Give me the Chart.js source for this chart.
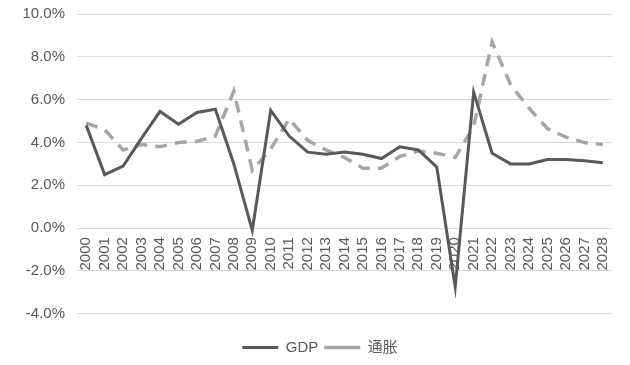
<!DOCTYPE html>
<html>
<head>
<meta charset="utf-8">
<script src="https://cdn.jsdelivr.net/npm/chart.js@4/dist/chart.umd.min.js"></script>
<style>
  html, body { margin: 0; padding: 0; background: #fff; }
  #wrap { width: 630px; height: 365px; position: relative; }
</style>
</head>
<body>
<div id="wrap"><canvas id="econChart"></canvas></div>
<script>
// 年份
const years = ['2000', '2001', '2002', '2003', '2004', '2005', '2006', '2007', '2008', '2009',
  '2010', '2011', '2012', '2013', '2014', '2015', '2016', '2017', '2018', '2019',
  '2020', '2021', '2022', '2023', '2024', '2025', '2026', '2027', '2028'];

// GDP 增速 (%)
const gdpValues = [4.8, 2.5, 2.9, 4.2, 5.45, 4.85, 5.4, 5.55, 3.0, -0.1,
  5.5, 4.3, 3.55, 3.45, 3.55, 3.45, 3.25, 3.8, 3.65, 2.85,
  -2.75, 6.35, 3.5, 3.0, 3.0, 3.2, 3.2, 3.15, 3.05];

// 通胀 (%)
const inflationValues = [4.9, 4.6, 3.65, 3.9, 3.8, 4.0, 4.05, 4.3, 6.4, 2.7,
  3.7, 5.1, 4.1, 3.65, 3.3, 2.8, 2.8, 3.35, 3.6, 3.5,
  3.3, 4.75, 8.7, 6.7, 5.6, 4.65, 4.25, 4.0, 3.9];

// y 轴刻度
const yMin = -4;
const yMax = 10;
const yStep = 2;

const FONT = '"Liberation Sans", Arial, "Noto Sans CJK SC", sans-serif';
const TEXT_COLOR = '#595959';
const GRID_COLOR = '#d9d9d9';

const ctx = document.getElementById('econChart').getContext('2d');

new Chart(ctx, {
  type: 'line',
  data: {
    labels: years,
    datasets: [{
      label: 'GDP',
      data: gdpValues,
      borderColor: '#595959',
      backgroundColor: '#595959',
      borderWidth: 3,
      pointRadius: 0,
      tension: 0,
      borderJoinStyle: 'miter'
    }, {
      label: '通胀',
      data: inflationValues,
      borderColor: '#a6a6a6',
      backgroundColor: '#a6a6a6',
      borderWidth: 3.5,
      borderDash: [12, 8],
      pointRadius: 0,
      tension: 0
    }]
  },
  options: {
    responsive: true,
    maintainAspectRatio: false,
    animation: false,
    layout: {
      // 左侧留白用来把图例往右推
      padding: { top: 14, right: 11, bottom: 0, left: 21 }
    },
    plugins: {
      legend: {
        position: 'bottom',
        title: {
          display: true,
          text: ' ',
          font: { size: 1 },
          padding: { top: 9, bottom: 10 }
        },
        labels: {
          usePointStyle: true,
          pointStyle: 'line',
          pointStyleWidth: 36,
          padding: 6,
          color: TEXT_COLOR,
          font: { family: FONT, size: 15 }
        }
      },
      tooltip: { enabled: false }
    },
    scales: {
      x: {
        position: { y: 0 },
        offset: true,
        grid: { display: false, drawTicks: false },
        border: { display: false },
        ticks: {
          autoSkip: false,
          minRotation: 90,
          maxRotation: 90,
          padding: 9,
          color: TEXT_COLOR,
          font: { family: FONT, size: 15 }
        }
      },
      y: {
        min: yMin,
        max: yMax,
        afterFit: function(scale) {
          scale.width = 56;
          scale.paddingTop = 0;
          scale.paddingBottom = 0;
        },
        grid: { color: GRID_COLOR, lineWidth: 1, drawTicks: false },
        border: { display: false },
        ticks: {
          stepSize: yStep,
          padding: 12,
          color: TEXT_COLOR,
          font: { family: FONT, size: 15 },
          callback: function(value) {
            return value.toFixed(1) + '%';
          }
        }
      }
    }
  }
});
</script>
</body>
</html>
